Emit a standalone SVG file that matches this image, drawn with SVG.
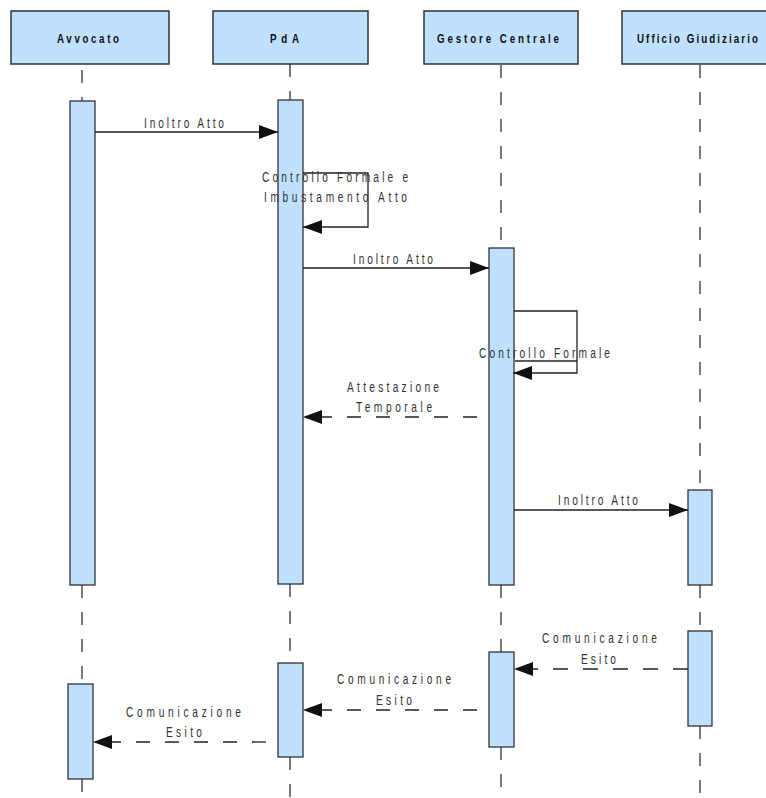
<svg xmlns="http://www.w3.org/2000/svg" width="766" height="798" viewBox="0 0 766 798">
<defs>
<marker id="arrow" markerUnits="userSpaceOnUse" markerWidth="20" markerHeight="14" refX="19" refY="7" orient="auto">
<path d="M0,0 L19,7 L0,14 Z" fill="#111"/>
</marker>
<style>
.head{fill:#c0e0ff;stroke:#333;stroke-width:1.5}
.bar{fill:#c0e0ff;stroke:#333;stroke-width:1.3}
.life{stroke:#222;stroke-width:1.2;stroke-dasharray:13 14;fill:none}
.msg{stroke:#222;stroke-width:1.3;fill:none;marker-end:url(#arrow)}
.dash{stroke-dasharray:14 15;stroke-dashoffset:17}
.dash0{stroke-dasharray:15 15}
.ht{font-family:'Liberation Sans',Arial,sans-serif;font-size:13px;font-weight:bold;fill:#111}
.mt{font-family:'Liberation Sans',Arial,sans-serif;font-size:14.5px;fill:#333}
</style>
</defs>
<rect x="0" y="0" width="766" height="798" fill="#fff"/>

<g id="avvocato">
<rect class="head" x="11" y="11" width="158" height="53"/>
<text class="ht" transform="translate(57,43) scale(0.75,1)" textLength="82.7" lengthAdjust="spacing">Avvocato</text>
<line class="life" x1="82" y1="70" x2="82" y2="101"/>
<line class="life" x1="82" y1="585" x2="82" y2="684"/>
<line class="life" x1="82" y1="779" x2="82" y2="798"/>
<rect class="bar" x="70" y="101" width="25" height="484"/>
<rect class="bar" x="68" y="684" width="25" height="95"/>
</g>

<g id="pda">
<rect class="head" x="213" y="11" width="155" height="53"/>
<text class="ht" transform="translate(270,43) scale(0.75,1)" textLength="38.7" lengthAdjust="spacing">PdA</text>
<line class="life" x1="290" y1="64" x2="290" y2="100"/>
<line class="life" x1="290" y1="584" x2="290" y2="663"/>
<line class="life" x1="290" y1="757" x2="290" y2="798"/>
<rect class="bar" x="278" y="100" width="25" height="484"/>
<rect class="bar" x="278" y="663" width="25" height="94"/>
</g>

<g id="gestore">
<rect class="head" x="424" y="11" width="154" height="53"/>
<text class="ht" transform="translate(437,43) scale(0.75,1)" textLength="162.7" lengthAdjust="spacing">Gestore Centrale</text>
<line class="life" x1="501" y1="65" x2="501" y2="248"/>
<line class="life" x1="501" y1="585" x2="501" y2="652"/>
<line class="life" x1="501" y1="747" x2="501" y2="798"/>
<rect class="bar" x="489" y="248" width="25" height="337"/>
<rect class="bar" x="489" y="652" width="25" height="95"/>
</g>

<g id="ufficio">
<rect class="head" x="622" y="11" width="156" height="53"/>
<text class="ht" transform="translate(637,43) scale(0.75,1)" textLength="161.3" lengthAdjust="spacing">Ufficio Giudiziario</text>
<line class="life" x1="700" y1="65" x2="700" y2="490"/>
<line class="life" x1="700" y1="585" x2="700" y2="631"/>
<line class="life" x1="700" y1="726" x2="700" y2="798"/>
<rect class="bar" x="688" y="490" width="24" height="95"/>
<rect class="bar" x="688" y="631" width="24" height="95"/>
</g>

<g id="connectors">
<line class="msg" x1="95" y1="132" x2="278" y2="132"/>
<text class="mt" transform="translate(144,128) scale(0.7,1)" textLength="114.3" lengthAdjust="spacing">Inoltro Atto</text>

<path class="msg" d="M303,173 H368 V227 H303"/>
<text class="mt" transform="translate(262,182) scale(0.7,1)" textLength="208.6" lengthAdjust="spacing">Controllo Formale e</text>
<text class="mt" transform="translate(264,202) scale(0.7,1)" textLength="204.3" lengthAdjust="spacing">Imbustamento Atto</text>

<line class="msg" x1="303" y1="268" x2="489" y2="268"/>
<text class="mt" transform="translate(353,264) scale(0.7,1)" textLength="114.3" lengthAdjust="spacing">Inoltro Atto</text>

<line x1="515" y1="361" x2="577" y2="361" stroke="#222" stroke-width="1.3"/>
<path class="msg" d="M514,311 H577 V373 H513"/>
<text class="mt" transform="translate(479,358) scale(0.7,1)" textLength="187.1" lengthAdjust="spacing">Controllo Formale</text>

<line class="msg dash" x1="489" y1="417" x2="303" y2="417"/>
<text class="mt" transform="translate(347,392) scale(0.7,1)" textLength="131.4" lengthAdjust="spacing">Attestazione</text>
<text class="mt" transform="translate(356,412) scale(0.7,1)" textLength="108.6" lengthAdjust="spacing">Temporale</text>

<line class="msg" x1="514" y1="510" x2="688" y2="510"/>
<text class="mt" transform="translate(558,505) scale(0.7,1)" textLength="114.3" lengthAdjust="spacing">Inoltro Atto</text>

<line class="msg dash0" x1="688" y1="669" x2="514" y2="669"/>
<text class="mt" transform="translate(542,643) scale(0.7,1)" textLength="164.3" lengthAdjust="spacing">Comunicazione</text>
<text class="mt" transform="translate(581,664) scale(0.7,1)" textLength="50" lengthAdjust="spacing">Esito</text>

<line class="msg dash" x1="489" y1="710" x2="303" y2="710"/>
<text class="mt" transform="translate(337,684) scale(0.7,1)" textLength="162.9" lengthAdjust="spacing">Comunicazione</text>
<text class="mt" transform="translate(376,705) scale(0.7,1)" textLength="51.4" lengthAdjust="spacing">Esito</text>

<line class="msg dash" x1="278" y1="742" x2="93" y2="742"/>
<text class="mt" transform="translate(126,717) scale(0.7,1)" textLength="164.3" lengthAdjust="spacing">Comunicazione</text>
<text class="mt" transform="translate(166,737) scale(0.7,1)" textLength="51.4" lengthAdjust="spacing">Esito</text>
</g>
</svg>
